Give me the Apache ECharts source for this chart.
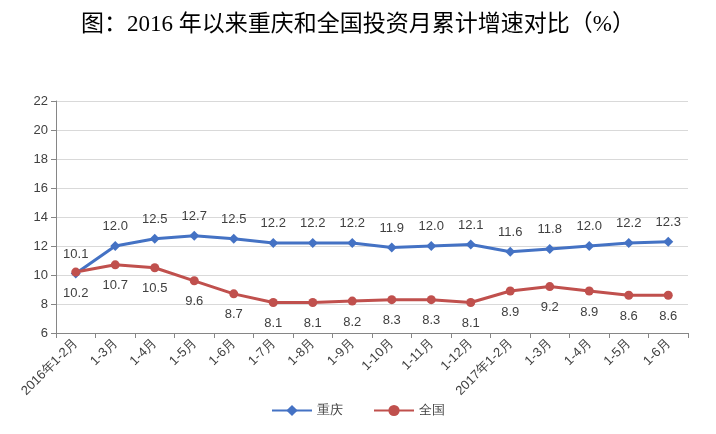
<!DOCTYPE html>
<html><head><meta charset="utf-8">
<script src="https://cdn.jsdelivr.net/npm/echarts@6/dist/echarts.min.js"></script>
<style>html,body{margin:0;padding:0;background:#fff}#box{width:716px;height:434px}</style>
</head><body><div id="box"></div>
<script>
const categories = ['2016年1-2月', '1-3月', '1-4月', '1-5月', '1-6月', '1-7月', '1-8月', '1-9月', '1-10月', '1-11月', '1-12月', '2017年1-2月', '1-3月', '1-4月', '1-5月', '1-6月']
const chongqing = [10.1, 12.0, 12.5, 12.7, 12.5, 12.2, 12.2, 12.2, 11.9, 12.0, 12.1, 11.6, 11.8, 12.0, 12.2, 12.3]
const national = [10.2, 10.7, 10.5, 9.6, 8.7, 8.1, 8.1, 8.2, 8.3, 8.3, 8.1, 8.9, 9.2, 8.9, 8.6, 8.6]

const chart = echarts.init(document.getElementById('box'))

const labelStyle = { show: true, color: '#404040', fontSize: 13, fontFamily: 'Liberation Sans', formatter: p => p.value.toFixed(1) }

chart.setOption({
    animation: false,
    title: {
        text: '图：2016 年以来重庆和全国投资月累计增速对比（%）',
        left: 'center', top: 8,
        textStyle: { fontSize: 23, fontWeight: 'normal', color: '#000', fontFamily: 'Liberation Serif, Noto Sans CJK SC' }
    },
    legend: {
        bottom: 12, left: 'center', itemWidth: 40, itemGap: 30,
        textStyle: { color: '#404040', fontSize: 13 },
        data: ['重庆', '全国']
    },
    grid: { left: 56, right: 28, top: 101, bottom: 101 },
    xAxis: {
        type: 'category', data: categories, boundaryGap: true,
        axisLine: { lineStyle: { color: '#868686' } },
        axisTick: { show: true, lineStyle: { color: '#868686' } },
        axisLabel: { rotate: 45, color: '#404040', fontSize: 13, interval: 0, fontFamily: 'Liberation Sans' }
    },
    yAxis: {
        type: 'value', min: 6, max: 22, interval: 2,
        axisLine: { show: true, lineStyle: { color: '#868686' } },
        axisTick: { show: true, lineStyle: { color: '#868686' } },
        axisLabel: { color: '#404040', fontSize: 13, fontFamily: 'Liberation Sans' },
        splitLine: { lineStyle: { color: '#d9d9d9' } }
    },
    series: [
        {
            name: '重庆', type: 'line', data: chongqing,
            symbol: 'diamond', symbolSize: 10,
            itemStyle: { color: '#4472C4' }, lineStyle: { width: 3, color: '#4472C4' },
            label: Object.assign({ position: 'top', distance: 8 }, labelStyle)
        },
        {
            name: '全国', type: 'line', data: national,
            symbol: 'circle', symbolSize: 9,
            itemStyle: { color: '#C0504D' }, lineStyle: { width: 3, color: '#C0504D' },
            label: Object.assign({ position: 'bottom', distance: 10 }, labelStyle)
        }
    ]
})
</script></body></html>
